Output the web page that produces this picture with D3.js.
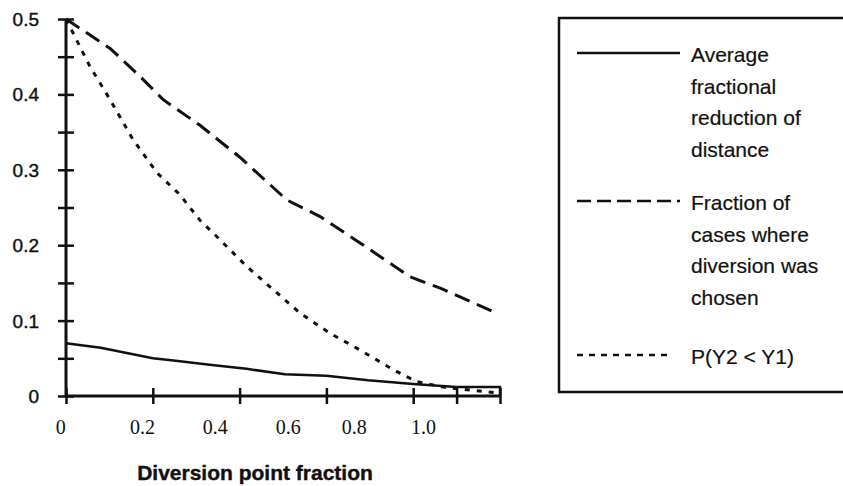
<!DOCTYPE html>
<html>
<head>
<meta charset="utf-8">
<script src="https://cdn.jsdelivr.net/npm/d3@7"></script>
<style>
  html, body { margin: 0; padding: 0; background: #fff; }
  svg { display: block; }
  .ylab { font-family: "Liberation Sans", Arial, sans-serif; font-size: 19px; fill: #111; stroke: #111; stroke-width: 0.4px; }
  .xlab { font-family: "Liberation Serif", "Times New Roman", serif; font-size: 20px; fill: #111; }
  .title { font-family: "Liberation Sans", Arial, sans-serif; font-size: 21px; font-weight: bold; fill: #111; stroke: #111; stroke-width: 0.4px; }
  .leg { font-family: "Liberation Sans", Arial, sans-serif; font-size: 21px; fill: #111; stroke: #111; stroke-width: 0.2px; }
</style>
</head>
<body>
<script>
// series
var avgX = [0, 0.1, 0.25, 0.31, 0.42, 0.52, 0.63, 0.75, 0.87, 1.0, 1.125, 1.25, 1.25];
var avgY = [0.07, 0.064, 0.05, 0.047, 0.041, 0.036, 0.029, 0.027, 0.021, 0.016, 0.012, 0.012, 0];

var fracX = [0, 0.127, 0.213, 0.28, 0.386, 0.5, 0.636, 0.732, 0.847, 0.991, 1.078, 1.245];
var fracY = [0.5, 0.461, 0.424, 0.393, 0.359, 0.317, 0.26, 0.238, 0.203, 0.158, 0.143, 0.109];

var probX = [0, 0.069, 0.127, 0.193, 0.262, 0.328, 0.386, 0.444, 0.52, 0.597, 0.674, 0.761, 0.847, 0.942, 1.01, 1.098, 1.248];
var probY = [0.5, 0.437, 0.393, 0.34, 0.296, 0.267, 0.233, 0.207, 0.172, 0.141, 0.11, 0.083, 0.061, 0.035, 0.019, 0.011, 0.004];

var yTicks = [0, 0.05, 0.1, 0.15, 0.2, 0.25, 0.3, 0.35, 0.4, 0.45, 0.5];
var yLabels = [0, 0.1, 0.2, 0.3, 0.4, 0.5];
var yLabelText = ["0", "0.1", "0.2", "0.3", "0.4", "0.5"];
var xTicks = [0, 0.25, 0.5, 0.75, 1.0, 1.125, 1.25];
// the labels in the original sit off the ticks
var xLabelPos = [-0.015, 0.22, 0.43, 0.64, 0.83, 1.03];
var xLabelText = ["0", "0.2", "0.4", "0.6", "0.8", "1.0"];

var legendNames = [
  ["Average", "fractional", "reduction of", "distance"],
  ["Fraction of", "cases where", "diversion was", "chosen"],
  ["P(Y2 < Y1)"]
];

var W = 843, H = 486;
var svg = d3.select("body").append("svg").attr("width", W).attr("height", H);

var x = d3.scaleLinear().domain([0, 1.25]).range([66, 500]);
var y = d3.scaleLinear().domain([0, 0.5]).range([396, 19]);

function zip(a, b) { return a.map(function (v, i) { return [v, b[i]]; }); }
var line = d3.line().x(function (d) { return x(d[0]); }).y(function (d) { return y(d[1]); });

// y axis: ticks crossing the line
var ya = svg.append("g").attr("transform", "translate(" + x(0) + ",0)");
ya.append("g").call(d3.axisLeft(y).tickValues(yTicks).tickSize(8).tickFormat(""));
ya.append("g").call(d3.axisRight(y).tickValues(yTicks).tickSize(8).tickFormat(""));
ya.selectAll("path.domain").remove();
ya.selectAll("line").attr("stroke", "#111").attr("stroke-width", 2.5);
ya.append("line").attr("x1", 0).attr("x2", 0).attr("y1", y(0.5)).attr("y2", y(0))
  .attr("stroke", "#111").attr("stroke-width", 3);

svg.selectAll("text.ylab").data(yLabels).enter().append("text")
  .attr("class", "ylab")
  .attr("x", 39).attr("y", function (d) { return y(d) + 7; })
  .attr("text-anchor", "end")
  .text(function (d, i) { return yLabelText[i]; });

// x axis
var xa = svg.append("g").attr("transform", "translate(0," + y(0) + ")");
xa.append("g").call(d3.axisBottom(x).tickValues(xTicks).tickSize(8).tickFormat(""));
xa.append("g").call(d3.axisTop(x).tickValues(xTicks).tickSize(8).tickFormat(""));
xa.selectAll("path.domain").remove();
xa.selectAll("line").attr("stroke", "#111").attr("stroke-width", 2.5);
xa.append("line").attr("x1", x(0)).attr("x2", x(1.25)).attr("y1", 0).attr("y2", 0)
  .attr("stroke", "#111").attr("stroke-width", 3);

svg.selectAll("text.xlab").data(xLabelPos).enter().append("text")
  .attr("class", "xlab")
  .attr("x", function (d) { return x(d); }).attr("y", 434)
  .attr("text-anchor", "middle")
  .text(function (d, i) { return xLabelText[i]; });

svg.append("text").attr("class", "title")
  .attr("x", 255).attr("y", 480).attr("text-anchor", "middle")
  .text("Diversion point fraction");

// curves
var styles = [
  { dash: null, w: 2.5 },
  { dash: "16,8", w: 3 },
  { dash: "5,7", w: 3 }
];
var series = [zip(avgX, avgY), zip(fracX, fracY), zip(probX, probY)];
svg.selectAll("path.curve").data(series).enter().append("path")
  .attr("class", "curve")
  .attr("d", line)
  .attr("fill", "none")
  .attr("stroke", "#111")
  .attr("stroke-width", function (d, i) { return styles[i].w; })
  .attr("stroke-dasharray", function (d, i) { return styles[i].dash; });

// legend
var lg = svg.append("g");
lg.append("rect").attr("x", 559).attr("y", 18).attr("width", 300).attr("height", 374)
  .attr("fill", "none").attr("stroke", "#111").attr("stroke-width", 2.5);

var legRows = [55, 203, 357];
var legEnds = [680, 680, 668];
var legDash = [null, "14,6", "6,6"];
legendNames.forEach(function (lines, i) {
  lg.append("line").attr("x1", 577).attr("x2", legEnds[i])
    .attr("y1", legRows[i] - 2).attr("y2", legRows[i] - 2)
    .attr("stroke", "#111").attr("stroke-width", 2.5)
    .attr("stroke-dasharray", legDash[i]);
  var t = lg.append("text").attr("class", "leg");
  lines.forEach(function (s, j) {
    t.append("tspan").attr("x", 691).attr("y", legRows[i] + 7 + j * 31.5).text(s);
  });
});
</script>
</body>
</html>
